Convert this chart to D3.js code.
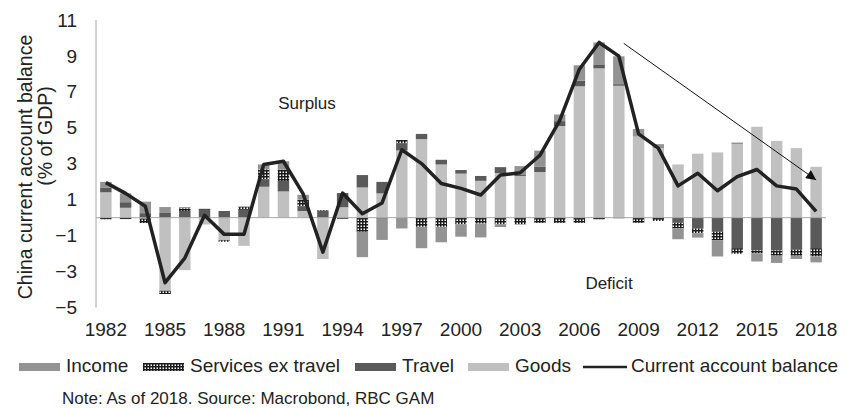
<!DOCTYPE html>
<html>
<head>
<meta charset="utf-8">
<script src="https://cdn.jsdelivr.net/npm/d3@7"></script>
<style>
  body { margin: 0; background: #fff; }
  svg { font-family: "Liberation Sans", Arial, sans-serif; }
</style>
</head>
<body>
<script>
// data, % of GDP
var years = d3.range(1982, 2019);
var goods = [1.41, 0.55, -0.05, -4.07, -2.92, -0.38, -1.25, -1.57, 1.72, 1.46, 0.37, -2.3, 0.58,
  1.68, 1.35, 3.74, 4.37, 2.96, 2.45, 2.05, 2.48, 2.32, 2.54, 5.1, 7.31, 8.31, 7.34, 4.51, 3.87,
  2.96, 3.56, 3.63, 4.09, 5.06, 4.27, 3.87, 2.83];
var travel = [0.27, 0.31, 0.25, 0.26, 0.37, 0.44, 0.37, 0.44, 0.42, 0.58, 0.26, 0.37, 0.79,
  0.69, 0.64, 0.4, 0.29, 0.26, 0.2, 0.27, 0.33, 0.09, 0.29, 0.27, 0.31, 0.22, 0.09, 0, 0,
  -0.29, -0.6, -0.79, -1.7, -1.83, -1.83, -1.79, -1.7];
var services = [-0.09, -0.08, -0.25, -0.18, 0.15, 0.04, -0.09, 0.15, 0.55, 0.64, 0.37, 0.04, -0.06,
  -0.79, -0.05, 0.18, -0.51, -0.51, -0.37, -0.33, -0.37, -0.37, -0.29, -0.29, -0.29, -0.09, -0.03, -0.29, -0.18,
  -0.31, -0.27, -0.46, -0.31, -0.15, -0.29, -0.33, -0.46];
var income = [0.31, 0.49, 0.64, 0.33, 0.07, 0.02, 0, 0.04, 0.27, 0.46, 0.27, 0, 0,
  -1.41, -1.19, -0.6, -1.19, -0.86, -0.69, -0.77, -0.15, 0.46, 0.9, 0.37, 0.86, 1.22, 1.55, 0.42, 0.22,
  -0.6, -0.24, -0.91, 0.09, -0.46, -0.4, -0.18, -0.33];
var balance = [1.95, 1.35, 0.64, -3.62, -2.25, 0.13, -0.93, -0.93, 2.96, 3.14, 1.32, -1.92, 1.37,
  0.22, 0.82, 3.78, 3.01, 1.9, 1.63, 1.26, 2.37, 2.5, 3.47, 5.4, 8.26, 9.75, 8.99, 4.66, 3.87,
  1.77, 2.47, 1.5, 2.28, 2.68, 1.77, 1.59, 0.35];
var yTicks = [-5, -3, -1, 1, 3, 5, 7, 9, 11];
var xTicks = years.filter(function (y) { return (y - 1982) % 3 === 0; });
// trend arrow: [year, value] start and end
var trendArrow = [[2008.25, 9.7], [2018, 2.1]];

var width = 854, height = 408;
var margin = {top: 20, right: 28, bottom: 100, left: 96};

var svg = d3.select("body").append("svg")
  .attr("width", width)
  .attr("height", height);

// dotted pattern for services
var defs = svg.append("defs");
var pat = defs.append("pattern")
  .attr("id", "dots")
  .attr("patternUnits", "userSpaceOnUse")
  .attr("width", 3).attr("height", 3);
pat.append("rect").attr("width", 3).attr("height", 3).attr("fill", "#1a1a1a");
pat.append("rect").attr("x", 0.5).attr("y", 0.5).attr("width", 1.5).attr("height", 1.5).attr("fill", "#fff");

defs.append("marker")
  .attr("id", "arrowhead")
  .attr("viewBox", "0 0 10 10")
  .attr("refX", 10).attr("refY", 5)
  .attr("markerUnits", "userSpaceOnUse")
  .attr("markerWidth", 11).attr("markerHeight", 10)
  .attr("orient", "auto")
  .append("path")
  .attr("d", "M0,0 L10,5 L0,10 Z")
  .attr("fill", "#111");

var x = d3.scaleBand()
  .domain(years)
  .range([margin.left, width - margin.right])
  .paddingInner(0.42)
  .paddingOuter(0.21);

var y = d3.scaleLinear()
  .domain([-5, 11])
  .range([307.5, 20]);

// continuous x for the arrow
var xc = function (yr) { return x(years[0]) + x.bandwidth() / 2 + (yr - years[0]) * x.step(); };

var rows = years.map(function (yr, i) {
  return {year: yr, goods: goods[i], travel: travel[i], services: services[i], income: income[i]};
});
var keys = ["goods", "travel", "services", "income"];
var fills = {goods: "#c0c0c0", travel: "#5a5a5a", services: "url(#dots)", income: "#939393"};

var stack = d3.stack().keys(keys).offset(d3.stackOffsetDiverging);
var series = stack(rows);

svg.append("g")
  .selectAll("g")
  .data(series)
  .join("g")
  .attr("fill", function (d) { return fills[d.key]; })
  .selectAll("rect")
  .data(function (d) { return d; })
  .join("rect")
  .attr("x", function (d) { return x(d.data.year); })
  .attr("width", x.bandwidth())
  .attr("y", function (d) { return y(Math.max(d[0], d[1])); })
  .attr("height", function (d) { return Math.abs(y(d[0]) - y(d[1])); });

// zero line and y axis line
svg.append("line")
  .attr("x1", margin.left).attr("x2", width - margin.right)
  .attr("y1", y(0)).attr("y2", y(0))
  .attr("stroke", "#a6a6a6").attr("stroke-width", 1);
svg.append("line")
  .attr("x1", margin.left).attr("x2", margin.left)
  .attr("y1", y(11)).attr("y2", y(-5))
  .attr("stroke", "#a6a6a6").attr("stroke-width", 1);

// balance line
var line = d3.line()
  .x(function (d, i) { return x(years[i]) + x.bandwidth() / 2; })
  .y(function (d) { return y(d); });
svg.append("path")
  .datum(balance)
  .attr("d", line)
  .attr("fill", "none")
  .attr("stroke", "#222")
  .attr("stroke-width", 3.5)
  .attr("stroke-linejoin", "round");

// trend arrow
svg.append("line")
  .attr("x1", xc(trendArrow[0][0])).attr("y1", y(trendArrow[0][1]))
  .attr("x2", xc(trendArrow[1][0])).attr("y2", y(trendArrow[1][1]))
  .attr("stroke", "#111").attr("stroke-width", 1)
  .attr("marker-end", "url(#arrowhead)");

// axes
var yAxis = svg.append("g")
  .attr("transform", "translate(" + margin.left + ",0)")
  .call(d3.axisLeft(y).tickValues(yTicks).tickSize(0).tickPadding(19).tickFormat(d3.format("d")));
yAxis.select(".domain").remove();
yAxis.selectAll("text").attr("font-size", 19).attr("fill", "#222").attr("font-family", null);

var xAxis = svg.append("g")
  .attr("transform", "translate(0," + y(-5) + ")")
  .call(d3.axisBottom(x).tickValues(xTicks).tickSize(0).tickPadding(15.5));
xAxis.select(".domain").remove();
xAxis.selectAll("text").attr("font-size", 19).attr("fill", "#222").attr("font-family", null);

// y title
svg.append("text")
  .attr("transform", "translate(25,167) rotate(-90)")
  .attr("text-anchor", "middle")
  .attr("dominant-baseline", "central")
  .attr("font-size", 19.5).attr("fill", "#222")
  .text("China current account balance");
svg.append("text")
  .attr("transform", "translate(45,136) rotate(-90)")
  .attr("text-anchor", "middle")
  .attr("dominant-baseline", "central")
  .attr("font-size", 19.5).attr("fill", "#222")
  .text("(% of GDP)");

// annotations
svg.append("text")
  .attr("x", 307).attr("y", 103)
  .attr("text-anchor", "middle").attr("dominant-baseline", "central")
  .attr("font-size", 17).attr("fill", "#222")
  .text("Surplus");
svg.append("text")
  .attr("x", 609).attr("y", 283)
  .attr("text-anchor", "middle").attr("dominant-baseline", "central")
  .attr("font-size", 17).attr("fill", "#222")
  .text("Deficit");

// legend
var legendItems = [
  {name: "Income", fill: fills.income, x: 19},
  {name: "Services ex travel", fill: fills.services, x: 143},
  {name: "Travel", fill: fills.travel, x: 355},
  {name: "Goods", fill: fills.goods, x: 468},
  {name: "Current account balance", line: true, x: 583}
];
var legend = svg.append("g").attr("transform", "translate(0,367)");
legendItems.forEach(function (d) {
  if (d.line) {
    legend.append("line")
      .attr("x1", d.x).attr("x2", d.x + 44)
      .attr("stroke", "#222").attr("stroke-width", 2.5);
  } else {
    legend.append("rect")
      .attr("x", d.x).attr("y", -4)
      .attr("width", 41).attr("height", 8)
      .attr("fill", d.fill);
  }
  legend.append("text")
    .attr("x", d.x + (d.line ? 48 : 47))
    .attr("y", 5)
    .attr("font-size", 19).attr("fill", "#222")
    .text(d.name);
});

svg.append("text")
  .attr("x", 62).attr("y", 404)
  .attr("font-size", 17).attr("fill", "#222")
  .text("Note: As of 2018. Source: Macrobond, RBC GAM");
</script>
</body>
</html>
